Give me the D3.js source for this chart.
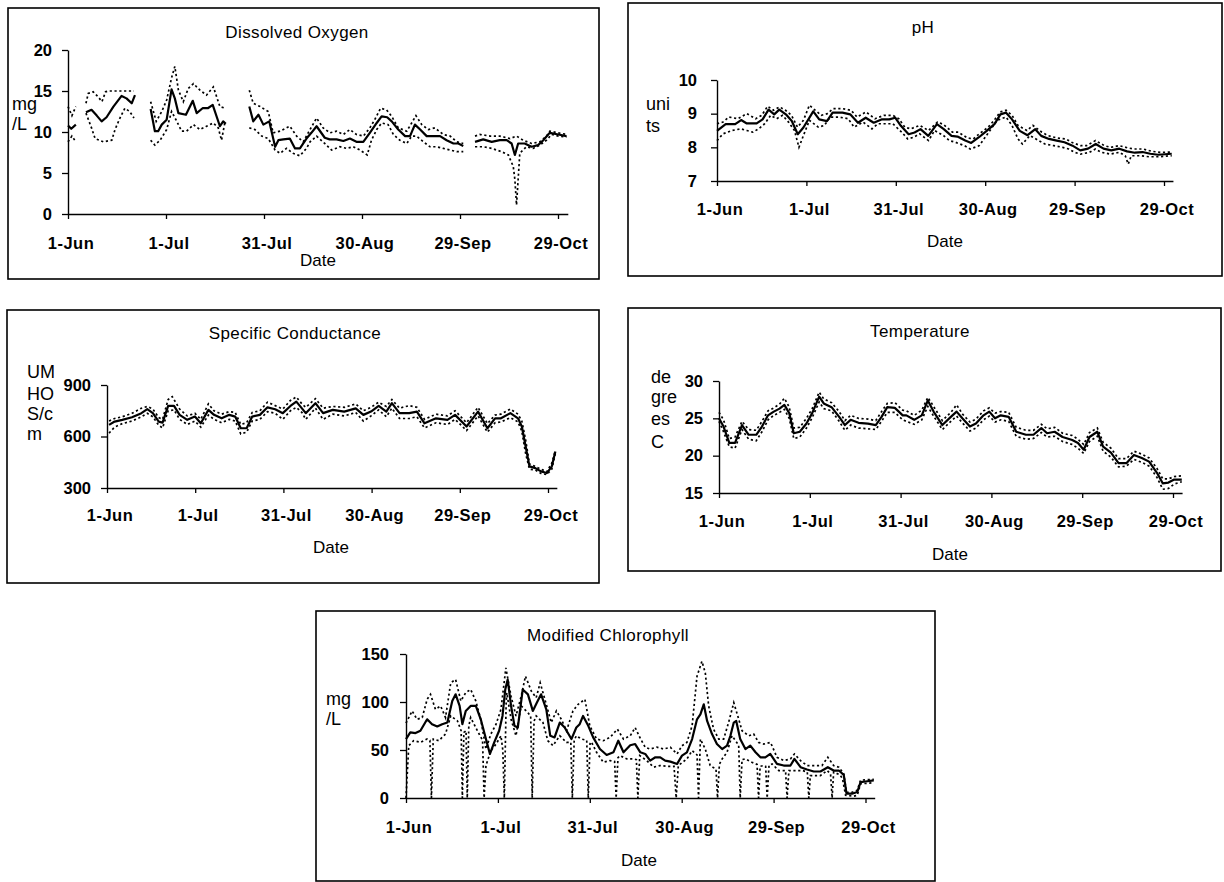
<!DOCTYPE html>
<html><head><meta charset="utf-8">
<script src="https://cdn.jsdelivr.net/npm/d3@7"></script>
<style>body{margin:0;background:#fff}svg text{font-family:"Liberation Sans",Arial,sans-serif;fill:#000}</style>
</head><body>
<svg id="c" width="1224" height="882"></svg>
<script>
// ---- shared date axis (day offset from 1-Jun) ----
const dateTicks = [0, 30, 60, 90, 120, 150];
const dateLabels = ["1-Jun", "1-Jul", "31-Jul", "30-Aug", "29-Sep", "29-Oct"];
const dayDomain = [0, 153];

// ---- Dissolved Oxygen (mg/L) : [day, value], null = gap ----
const doTicks = [0, 5, 10, 15, 20];
const doMean = [[0,10.8],[1,10.4],[2.4,10.9],[3,null],
[5.5,12.4],[7.2,12.7],[8.8,12.0],[10.3,11.3],[11.8,11.8],[13.9,13.1],[16.4,14.4],[17.9,14.1],[19.5,13.5],[20.5,14.5],[22,null],
[25.3,12.8],[26.6,10.1],[27.6,10.1],[28.7,10.9],[30.2,11.5],[31.7,15.2],[32.7,14.1],[33.8,12.3],[36.1,12.1],[38.2,13.8],[39.4,12.3],[41.2,12.9],[42.8,12.9],[44.3,13.3],[46.5,10.7],[47.5,11.3],[48.3,11.0],[50,null],
[55.5,13.1],[56.7,11.3],[58.3,12.1],[59.8,10.9],[61.6,11.3],[63.4,8.2],[64.4,9.0],[65.9,9.1],[67.9,9.2],[69.5,8.0],[71.0,8.0],[73.0,9.2],[74.5,9.9],[76.1,10.7],[78.6,9.3],[80.1,9.1],[82.2,9.1],[84.3,8.9],[86.3,9.2],[88.3,8.8],[90.4,8.8],[92.4,9.9],[94.5,11.1],[96.0,11.9],[97.7,11.8],[99.1,11.3],[101.1,10.3],[103.2,9.5],[104.7,9.5],[106.2,10.9],[107.8,10.3],[109.8,9.5],[112.3,9.5],[113.9,9.5],[115.9,9.0],[118.0,8.6],[119.5,8.6],[121.0,8.3],[123,null],
[124.6,8.8],[127.1,9.1],[129.7,8.8],[132.2,9.0],[134.3,9.0],[135.8,8.6],[136.8,7.2],[137.8,8.6],[139.8,8.6],[141.9,8.2],[143.9,8.4],[145.5,9.0],[147.0,9.7],[147.5,9.9],[150.1,9.7],[152.6,9.5]];
const doMax = [[0,13.1],[1.2,12.0],[2.4,13.1],[3,null],
[5.5,13.5],[6.2,14.7],[7.7,14.9],[9.2,14.3],[10.4,13.7],[11.5,14.9],[12.5,15.0],[20.2,15.0],[22,null],
[25.3,13.7],[27.0,11.3],[28.7,12.5],[30.2,13.9],[31.7,16.6],[32.7,18.0],[33.8,15.1],[35.3,13.7],[36.8,15.3],[38.4,15.9],[40.4,15.1],[42.4,14.5],[44.5,15.5],[46.5,13.1],[48.1,12.9],[50,null],
[55.5,15.1],[56.7,13.5],[58.8,13.1],[61.3,12.5],[62.8,9.9],[64.9,10.1],[67.9,10.7],[70.0,9.5],[72.0,8.8],[74.1,10.3],[76.1,11.7],[78.1,10.5],[80.2,9.9],[82.2,10.1],[84.3,9.7],[86.3,10.3],[88.3,9.7],[90.4,9.5],[92.4,10.5],[93.9,11.5],[95.7,12.9],[97.5,12.7],[99.1,11.9],[101.1,10.5],[103.7,10.1],[105.2,11.1],[106.5,12.0],[108.3,10.9],[110.3,10.3],[112.3,10.5],[114.9,9.7],[117.0,9.5],[119.0,8.8],[121.0,8.6],[123,null],
[124.6,9.5],[126.1,9.7],[129.2,9.5],[132.2,9.5],[135.3,9.2],[137.3,9.5],[139.3,9.0],[141.9,8.6],[144.4,8.8],[146.5,9.5],[147.5,10.1],[150.1,9.9],[152.6,9.7]];
const doMin = [[0,8.8],[1.2,9.5],[2.4,8.8],[3,null],
[5.5,12.3],[7.2,10.5],[8.3,9.2],[10.8,8.8],[13.4,9.0],[14.4,10.3],[15.9,11.7],[17.4,12.9],[18.9,12.5],[20.2,11.7],[22,null],
[25.3,9.0],[26.6,8.4],[28.2,9.0],[30.2,10.3],[31.7,12.5],[33.3,11.3],[34.8,10.1],[36.3,10.1],[38.4,10.9],[40.4,10.3],[42.4,10.7],[44.5,11.1],[46.0,10.5],[47.0,9.0],[48.1,11.3],[50,null],
[55.5,10.5],[57.2,10.3],[59.3,9.5],[61.3,9.2],[63.4,7.8],[64.9,7.4],[66.9,8.0],[68.9,7.4],[71.0,7.1],[73.0,8.0],[74.1,8.8],[76.1,9.5],[78.6,8.6],[80.7,7.8],[83.2,8.2],[85.3,8.0],[87.3,8.2],[89.4,7.8],[91.6,7.2],[92.9,9.0],[94.5,10.3],[96.0,11.1],[98.0,10.9],[99.6,9.7],[101.6,9.0],[103.7,8.6],[105.2,9.5],[106.7,9.5],[108.8,8.8],[110.8,8.2],[112.9,8.2],[114.9,8.0],[117.0,7.8],[119.0,7.6],[121.0,7.6],[123,null],
[124.6,8.2],[127.1,8.2],[129.7,8.0],[132.7,7.6],[134.8,7.2],[136.3,5.8],[136.8,4.2],[137.3,1.1],[137.8,4.2],[138.3,7.4],[140.3,8.2],[142.4,8.0],[144.4,8.4],[146.5,9.0],[148.0,9.7],[150.1,9.5],[152.6,9.4]];

// ---- pH (units) ----
const phTicks = [7, 8, 9, 10];
const phMean = [[0,8.49],[2.9,8.69],[6.1,8.69],[8.1,8.81],[10,8.71],[13.3,8.71],[15.3,8.83],[17.3,9.12],[19.2,8.98],[20.9,9.12],[23.1,8.98],[25.1,8.78],[27.1,8.39],[29,8.59],[32.3,9.07],[34.3,8.83],[36.9,8.78],[38.8,9.03],[42.1,9.03],[44.7,8.98],[47.3,8.73],[49.9,8.88],[52.6,8.73],[55.2,8.83],[57.8,8.83],[59.8,8.88],[61.7,8.64],[64.3,8.39],[66.3,8.44],[68.3,8.54],[70.9,8.34],[73.8,8.69],[76.1,8.54],[78.7,8.34],[80.7,8.32],[83.3,8.2],[85.3,8.13],[87.9,8.3],[90.5,8.49],[93.1,8.69],[95.1,8.98],[97,9.03],[99,8.83],[101.6,8.49],[104.2,8.36],[106.8,8.54],[108.8,8.34],[111.4,8.25],[114,8.2],[116.6,8.15],[119.3,8.05],[121.9,7.91],[124.5,7.96],[127.1,8.1],[129.7,7.96],[132.3,7.91],[135,7.96],[137.6,7.88],[140.2,7.84],[142.8,7.86],[145.4,7.81],[148,7.78],[152.6,7.81]];
const phMax = [[0,8.7],[2,8.75],[4,8.9],[7,8.85],[10,9.0],[13,8.85],[15,8.95],[17,9.22],[19,9.1],[21,9.2],[23,9.1],[25,8.95],[27,8.6],[29,8.8],[31,9.25],[33,9.1],[35,8.95],[37,9.0],[39,9.15],[42,9.15],[45,9.1],[47,8.9],[50,9.05],[53,8.85],[56,8.95],[59,8.95],[61,8.85],[63,8.6],[65,8.55],[68,8.65],[71,8.5],[74,8.75],[76,8.68],[79,8.45],[81,8.45],[84,8.28],[86,8.25],[88,8.4],[91,8.6],[93,8.8],[95,9.05],[97,9.1],[99,8.95],[101,8.65],[104,8.5],[106,8.65],[109,8.45],[111,8.35],[114,8.28],[117,8.25],[119,8.15],[122,8.05],[124,8.05],[127,8.2],[130,8.05],[132,8.0],[135,8.05],[138,7.98],[140,7.95],[143,7.95],[146,7.88],[149,7.85],[152.6,7.86]];
const phMin = [[0,8.2],[2,8.4],[5,8.5],[8,8.55],[10,8.5],[12,8.45],[14,8.55],[16,8.7],[18,8.95],[20,8.85],[22,8.95],[24,8.75],[26,8.5],[27.5,8.0],[29,8.35],[31,8.8],[34,8.6],[36,8.65],[38,8.9],[41,8.9],[44,8.85],[46,8.6],[49,8.75],[52,8.55],[54,8.7],[57,8.7],[59,8.7],[62,8.45],[64,8.25],[66,8.3],[68,8.4],[71,8.2],[73,8.5],[76,8.35],[78,8.2],[80,8.15],[83,8.05],[85,7.95],[88,8.05],[90,8.3],[92,8.55],[94,8.8],[97,8.9],[99,8.65],[101,8.25],[102.5,8.1],[105,8.35],[108,8.2],[110,8.1],[113,8.05],[116,8.0],[118,7.95],[120,7.85],[122,7.8],[125,7.85],[127,7.95],[129,7.85],[132,7.8],[135,7.85],[137,7.75],[138,7.5],[139,7.75],[142,7.75],[145,7.72],[148,7.72],[152.6,7.75]];

// ---- Specific Conductance (UMHOS/cm) ----
const scTicks = [300, 600, 900];
const scMean = [[0.7,668],[2.6,687],[5.2,697],[8.5,712],[11.7,736],[13.7,759],[15.6,736],[17.6,687],[18.9,681],[20.8,778],[22.8,778],[24.7,726],[27.3,697],[29.9,716],[31.9,677],[34.5,755],[36.4,726],[39,706],[41.6,726],[43.6,716],[45.5,648],[47.5,648],[49.4,716],[52,726],[54.6,770],[57.2,759],[59.8,736],[62.4,778],[64.4,803],[66.3,764],[67.6,736],[70.9,794],[73.5,736],[76.8,755],[80.7,745],[84.6,764],[87.2,726],[89.8,745],[92.4,778],[95,745],[96.9,794],[99.5,736],[102.8,736],[105.4,745],[108,677],[111.9,706],[115.8,697],[118.4,726],[122.3,658],[126.2,745],[129.4,648],[132,706],[134,706],[137.2,736],[139.8,706],[141.1,658],[142.4,542],[143.7,426],[145.7,416],[147.6,397],[149.6,387],[151.3,426],[152.5,513]];
const scMax = [[0.7,690],[2.6,705],[5.2,715],[8.5,735],[11.7,765],[13.7,775],[15.6,760],[17.6,710],[18.9,700],[20.8,815],[22.2,832],[24.7,760],[27.3,720],[29.9,735],[31.9,700],[34.5,790],[36.4,750],[39,730],[41.6,745],[43.6,740],[45.5,670],[47.5,680],[49.4,740],[52,750],[54.6,800],[57.2,780],[59.8,760],[62.4,810],[64.4,830],[66.3,790],[67.6,770],[70.9,820],[73.5,765],[76.8,775],[80.7,770],[84.6,790],[87.2,750],[89.8,770],[92.4,800],[95,775],[96.9,815],[99.5,765],[102.8,780],[105.4,770],[108,700],[111.9,730],[115.8,720],[118.4,750],[122.3,680],[126.2,770],[129.4,675],[132,725],[134,730],[137.2,760],[139.8,730],[141.1,690],[142.4,580],[143.7,440],[145.7,425],[147.6,410],[149.6,395],[151.3,445],[152.5,520]];
const scMin = [[0.7,620],[2.6,655],[5.2,675],[8.5,690],[11.7,715],[13.7,735],[15.6,715],[17.6,665],[18.9,650],[20.8,750],[22.8,755],[24.7,700],[27.3,670],[29.9,690],[31.9,655],[34.5,725],[36.4,700],[39,680],[41.6,700],[43.6,690],[45.5,615],[47.5,625],[49.4,690],[52,700],[54.6,745],[57.2,735],[59.8,700],[62.4,750],[64.4,770],[66.3,740],[67.6,700],[70.9,765],[73.5,700],[76.8,730],[80.7,720],[84.6,740],[87.2,690],[89.8,720],[92.4,755],[95,715],[96.9,765],[99.5,705],[102.8,705],[105.4,715],[108,650],[111.9,680],[115.8,670],[118.4,700],[122.3,635],[126.2,720],[129.4,625],[132,680],[134,685],[137.2,710],[139.8,685],[141.1,630],[142.4,500],[143.7,410],[145.7,405],[147.6,385],[149.6,378],[151.3,410],[152.5,500]];

// ---- Temperature (degrees C) ----
const tTicks = [15, 20, 25, 30];
const tMean = [[0,25],[1.5,23.9],[3.4,21.7],[5.3,21.7],[7.6,24.1],[9.8,22.8],[12.3,22.8],[14.2,23.9],[16.2,25.4],[18.1,25.9],[20,26.3],[21.6,26.8],[23.2,25.7],[24.7,23],[26.7,23.2],[28.9,24.3],[30.8,25.7],[33.1,27.9],[34.6,27],[37.2,26.5],[39.7,25.2],[41.6,24.1],[43.5,24.8],[46.1,24.4],[49.2,24.3],[51.8,24.1],[53.7,25.2],[55.6,26.5],[58.1,26.4],[60.7,25.4],[61.9,25.4],[64.5,24.8],[67,25.4],[69,27.4],[70.9,25.9],[73.8,24.1],[76.6,25.2],[78.5,25.9],[80.4,25],[82.9,23.9],[84.9,24.3],[87.4,25.4],[89.3,25.9],[91.2,25],[93.1,25.4],[95.7,25.2],[98.2,23.2],[101.4,22.8],[103.9,22.8],[106.5,23.7],[108.4,23],[110.9,23.2],[113.5,22.5],[116.7,22.1],[118.6,21.7],[120.5,20.8],[122.4,22.5],[125,23.2],[126.9,21.2],[129.5,20.4],[132,19],[134.6,19],[137.1,20.1],[139.7,19.7],[142.1,19.2],[144.7,17.7],[146.6,16.3],[148.5,16.4],[150.4,16.8],[152.9,16.8]];
const tMax = [[0,25.8],[1.5,24.8],[3.4,22.3],[5.3,22.5],[7.6,24.6],[9.8,23.5],[12.3,23.4],[14.2,24.6],[16.2,26],[18.1,26.4],[20,26.9],[21.6,27.7],[23.2,26.5],[24.7,23.7],[26.7,23.8],[28.9,25],[30.8,26.3],[33.1,28.5],[34.6,27.6],[37.2,27.1],[39.7,25.9],[41.6,24.7],[43.5,25.4],[46.1,25],[49.2,24.9],[51.8,24.7],[53.7,25.9],[55.6,27],[58.1,27.1],[60.7,26.1],[61.9,26],[64.5,25.4],[67,26.1],[69,27.8],[70.9,26.6],[73.8,24.7],[76.6,25.8],[78.5,26.8],[80.4,25.6],[82.9,24.5],[84.9,24.9],[87.4,26],[89.3,26.4],[91.2,25.7],[93.1,25.9],[95.7,25.8],[98.2,23.8],[101.4,23.4],[103.9,23.4],[106.5,24.2],[108.4,23.6],[110.9,23.8],[113.5,23],[116.7,22.7],[118.6,22.2],[120.5,21.5],[122.4,23.1],[125,23.7],[126.9,21.8],[129.5,21],[132,19.6],[134.6,19.6],[137.1,20.6],[139.7,20.2],[142.1,19.7],[144.7,18.3],[146.6,16.9],[148.5,16.9],[150.4,17.2],[152.9,17.3]];
const tMin = [[0,24.6],[1.5,23.2],[3.4,21.2],[5.3,21],[7.6,23.5],[9.8,22.2],[12.3,22],[14.2,23.2],[16.2,24.8],[18.1,25.4],[20,25.8],[21.6,26.2],[23.2,25],[24.7,22.3],[26.7,22.5],[28.9,23.7],[30.8,25.1],[33.1,27.2],[34.6,26.3],[37.2,26],[39.7,24.6],[41.6,23.4],[43.5,24.1],[46.1,23.7],[49.2,23.6],[51.8,23.5],[53.7,24.6],[55.6,25.8],[58.1,25.8],[60.7,24.8],[61.9,24.6],[64.5,24.2],[67,24.8],[69,26.6],[70.9,25.3],[73.8,23.5],[76.6,24.6],[78.5,25.3],[80.4,24.4],[82.9,23.3],[84.9,23.7],[87.4,24.8],[89.3,25.3],[91.2,24.5],[93.1,24.8],[95.7,24.6],[98.2,22.6],[101.4,22.2],[103.9,22.3],[106.5,23.1],[108.4,22.5],[110.9,22.6],[113.5,21.9],[116.7,21.5],[118.6,21],[120.5,20.3],[122.4,21.9],[125,22.6],[126.9,20.6],[129.5,19.8],[132,18.5],[134.6,18.6],[137.1,19.5],[139.7,19.1],[142.1,18.6],[144.7,17.1],[146.6,15.5],[148.5,15.6],[150.4,16.2],[152.9,16.5]];

// ---- Modified Chlorophyll (mg/L) ----
const chlTicks = [0, 50, 100, 150];
const chlMean = [[0,61.4],[1.4,68.3],[3.1,67.6],[4.7,70],[6.9,82],[8.5,76.9],[10.2,74.5],[11.8,76.9],[13.5,78.6],[15.1,101],[16.2,108],[17.5,95.9],[18.4,76.9],[19.5,90.7],[21.1,95.9],[22.8,95.9],[24.4,82],[26.1,61.4],[27.4,45.9],[28.8,57.9],[30.4,70],[31.5,85.5],[32.4,113],[33.2,123.4],[34.3,95.9],[35.4,75.2],[36.5,73.4],[38.1,113],[39.8,108],[41.4,90.7],[42.7,99.3],[44.1,108],[45.8,92.4],[47.1,64.8],[48.5,63.1],[50.2,78.6],[51.8,73.4],[54,61.4],[55.6,73.4],[56.7,76.9],[57.8,85.5],[59.5,75.2],[61.1,63.1],[63.3,51],[65.5,44.8],[67.7,47.6],[69.3,59.7],[71,47.6],[73.2,55],[74.8,56.2],[76.5,47.6],[78.1,45.9],[79.7,39],[81.4,42.4],[83,42.4],[84.6,39],[86.3,37.9],[88.5,35.5],[90.1,44.1],[91.7,47.6],[93.4,61.4],[95,82],[96.1,87.2],[97.2,97.6],[98.3,80.3],[99.9,66.6],[101.5,56.2],[103.2,51],[104.8,54.5],[105.9,64.8],[107,78.6],[107.8,80.3],[109.1,61.4],[110.8,51],[112.4,54.5],[114.1,47.6],[115.7,42.4],[117.3,42.4],[118.9,45.9],[121.1,35.5],[123.3,33.8],[125.5,33.8],[126.8,40.7],[128.8,32.1],[130.9,29.7],[133.1,27.6],[135.3,27.6],[137.7,32.1],[139.6,28.6],[141.3,28.6],[142.9,24.1],[143.8,4.5],[145.6,4.5],[147.3,6.2],[148.4,16.6],[150,17.2],[152.7,18.3]];
const chlMax = [[0,78],[2,90.7],[3.6,82],[5.3,83.8],[6.9,102.8],[8,108],[9.6,92.4],[11.3,95.9],[12.9,83.8],[14.6,120],[16.2,123.4],[17.9,101],[19.5,109.7],[21.1,113],[22.8,101],[24.4,82],[26.1,51],[27.7,66.6],[29.4,76.9],[31,92.4],[32.6,135.5],[34.3,106],[35.9,85.5],[37.6,106],[39,126.9],[40.9,111.4],[42.5,104.5],[43.8,120],[45.8,97.6],[47.4,78.6],[49.1,90.7],[50.7,82],[52.4,70],[54.5,90.7],[56.2,97.6],[58.4,102.8],[60,75.2],[62.2,61.4],[64.4,59.7],[66.6,63.1],[69,71.7],[71,61.4],[73.2,64.8],[74.8,73.4],[76.5,62],[78.1,52.8],[79.7,51],[81.9,53],[84.1,51],[86.3,52.8],[88.5,45.9],[90.1,54.5],[91.7,57.9],[93.4,75.2],[95,126.9],[96.6,142.4],[97.7,130.3],[98.8,95.9],[100.4,71.7],[102.1,61.4],[103.7,61.4],[105.3,78.6],[107,99.3],[108.3,85.5],[109.7,70],[111.9,64.8],[113.5,66.6],[115.1,57.9],[116.8,56.2],[119,57.9],[121.1,42.4],[123.3,39],[125.5,40.7],[126.8,45.9],[128.8,39],[130.9,33.8],[133.1,33.8],[135.8,33.8],[137.7,42.4],[139.6,33.8],[141.3,32.1],[142.9,25.2],[143.8,6],[145.6,6],[147.3,8],[148.4,18.5],[150,19],[152.7,19.5]];
const chlMin = [[0,0],[0.9,54.5],[2.5,59.7],[4.7,58],[6.9,61.4],[7.8,60],[8.3,0],[8.9,61.4],[10.7,59.7],[12.9,66.6],[14.6,85.5],[16.8,80.3],[18,70],[18.4,0],[18.9,68.3],[19.6,70],[20,0],[20.5,75],[21.1,83.8],[23.3,70],[25,60],[25.5,0],[26.1,33.8],[27.7,49.3],[29.4,56.2],[31,64.8],[31.6,50],[32.1,0],[32.7,100],[32.9,109.7],[34.3,82],[35.9,64.8],[37.6,95.9],[39.8,89],[40.7,85],[41.2,0],[41.8,80],[42.5,85.5],[44.7,78.6],[46.3,59.7],[48,54.5],[50.2,64.8],[52.4,57.9],[53.8,58],[54.3,0],[54.9,60],[55.6,64.8],[57.3,61.4],[59,60],[59.5,0],[60.1,58],[60.6,57.9],[62.2,47.6],[64.4,37.2],[66.6,39],[68.1,38],[68.6,0],[69.2,42],[69.9,44.1],[72.1,40.7],[74.3,40.7],[75.2,40],[75.7,0],[76.3,44.1],[78.6,39],[80.8,32.1],[82.9,33.8],[85.2,33],[87.5,33],[88.2,0],[88.9,33.8],[91.7,40.7],[93.4,49.3],[95,45],[95.5,0],[96.1,61.4],[97.7,51],[99.3,33.8],[101.2,30],[101.7,0],[102.3,35],[103.2,40.7],[104.8,47.6],[106.4,64.8],[108.6,55],[109.1,0],[109.7,40],[110.8,40.7],[112.9,37.2],[114.6,35],[115.1,0],[115.6,33],[116.8,33.8],[117.4,33],[117.9,0],[118.5,34],[119.5,35.5],[121.7,28.6],[123.9,28.6],[124.4,0],[125,28.6],[127,28.6],[129.5,28.6],[131,27],[131.5,0],[132,23.4],[135.3,23.4],[137.5,28.6],[138.6,25],[139.1,0],[139.6,27],[141.7,24],[142.5,20],[143.5,2.8],[146.2,2],[147.3,2.8],[148.4,14.8],[152.7,15.9]];

// ---- layout (pixels) per panel ----
const panels = [
  {title:"Dissolved Oxygen", unit:["mg","/L"], box:[8,8,599,279], x0:68, x150:558,
   yDom:[0,20], yRange:[214,50], yTicks:doTicks, yPad:10,
   titleXY:[297,38], dateXY:[318,266], tickBase:249, unitX:12, unitBase:[110,130],
   mean:doMean, min:doMin, max:doMax},
  {title:"pH", unit:["uni","ts"], box:[628,3,1222,276], x0:717, x150:1164,
   yDom:[7,10], yRange:[181,80], yTicks:phTicks, yPad:14,
   titleXY:[923,33], dateXY:[945,247], tickBase:215, unitX:646, unitBase:[110,132],
   mean:phMean, min:phMin, max:phMax},
  {title:"Specific Conductance", unit:["UM","HO","S/c","m"], box:[7,310,599,583], x0:107, x150:548,
   yDom:[300,900], yRange:[488,385], yTicks:scTicks, yPad:10,
   titleXY:[295,339], dateXY:[331,553], tickBase:521, unitX:27, unitBase:[378,400,420,440],
   mean:scMean, min:scMin, max:scMax},
  {title:"Temperature", unit:["de","gre","es","C"], box:[628,308,1221,571], x0:719, x150:1173,
   yDom:[15,30], yRange:[493,381], yTicks:tTicks, yPad:10,
   titleXY:[920,337], dateXY:[950,560], tickBase:527, unitX:651, unitBase:[383,403,425,448],
   mean:tMean, min:tMin, max:tMax},
  {title:"Modified Chlorophyll", unit:["mg","/L"], box:[316,611,935,881], x0:406, x150:865.5,
   yDom:[0,150], yRange:[798,654], yTicks:chlTicks, yPad:11,
   titleXY:[608,641], dateXY:[639,866], tickBase:833, unitX:326, unitBase:[705,725],
   mean:chlMean, min:chlMin, max:chlMax}
];

const svg = d3.select("#c");

panels.forEach(p => {
  const g = svg.append("g");
  // frame
  g.append("rect").attr("x", p.box[0]).attr("y", p.box[1])
    .attr("width", p.box[2]-p.box[0]).attr("height", p.box[3]-p.box[1])
    .attr("fill", "none").attr("stroke", "#000").attr("stroke-width", 1.6);

  const xEnd = p.x0 + (dayDomain[1]/150)*(p.x150 - p.x0);
  const x = d3.scaleLinear().domain(dayDomain).range([p.x0, xEnd]);
  const y = d3.scaleLinear().domain(p.yDom).range(p.yRange);

  // y axis
  const ya = g.append("g").attr("transform", `translate(${p.x0},0)`)
    .call(d3.axisLeft(y).tickValues(p.yTicks).tickSize(6).tickSizeOuter(0).tickPadding(p.yPad).tickFormat(d3.format("d")));
  ya.select(".domain").attr("stroke", "#000").attr("stroke-width", 1.4);
  ya.selectAll(".tick line").attr("stroke", "#000").attr("stroke-width", 1.3);
  ya.selectAll(".tick text").attr("font-family", '"Liberation Sans",Arial,sans-serif')
    .attr("font-size", 16.5).attr("font-weight", "bold").attr("fill", "#000");

  // x axis
  const xa = g.append("g").attr("transform", `translate(0,${p.yRange[0]})`)
    .call(d3.axisBottom(x).tickValues(dateTicks).tickSize(5).tickSizeOuter(0).tickFormat(""));
  xa.select(".domain").attr("stroke", "#000").attr("stroke-width", 1.4);
  xa.selectAll(".tick line").attr("stroke", "#000").attr("stroke-width", 1.3);

  g.selectAll("text.xl").data(dateTicks).enter().append("text")
    .attr("class", "xl")
    .attr("x", (d) => x(d) + 3).attr("y", p.tickBase)
    .attr("text-anchor", "middle").attr("font-size", 16.5).attr("font-weight", "bold")
    .attr("letter-spacing", 0.5)
    .text((d, i) => dateLabels[i]);

  // title, axis title, unit
  g.append("text").attr("x", p.titleXY[0]).attr("y", p.titleXY[1])
    .attr("text-anchor", "middle").attr("font-size", 17).attr("letter-spacing", 0.4).text(p.title);
  g.append("text").attr("x", p.dateXY[0]).attr("y", p.dateXY[1])
    .attr("text-anchor", "middle").attr("font-size", 17).text("Date");
  p.unit.forEach((u, i) => {
    g.append("text").attr("x", p.unitX).attr("y", p.unitBase[i])
      .attr("font-size", 18).text(u);
  });

  const line = d3.line().defined(d => d[1] != null).x(d => x(d[0])).y(d => y(d[1]));
  [p.min, p.max].forEach(s => {
    g.append("path").datum(s).attr("d", line).attr("fill", "none")
      .attr("stroke", "#000").attr("stroke-width", 1.7).attr("stroke-dasharray", "2.2,2.6");
  });
  g.append("path").datum(p.mean).attr("d", line).attr("fill", "none")
    .attr("stroke", "#000").attr("stroke-width", 2.2).attr("stroke-linejoin", "round");
});
</script>
</body></html>
